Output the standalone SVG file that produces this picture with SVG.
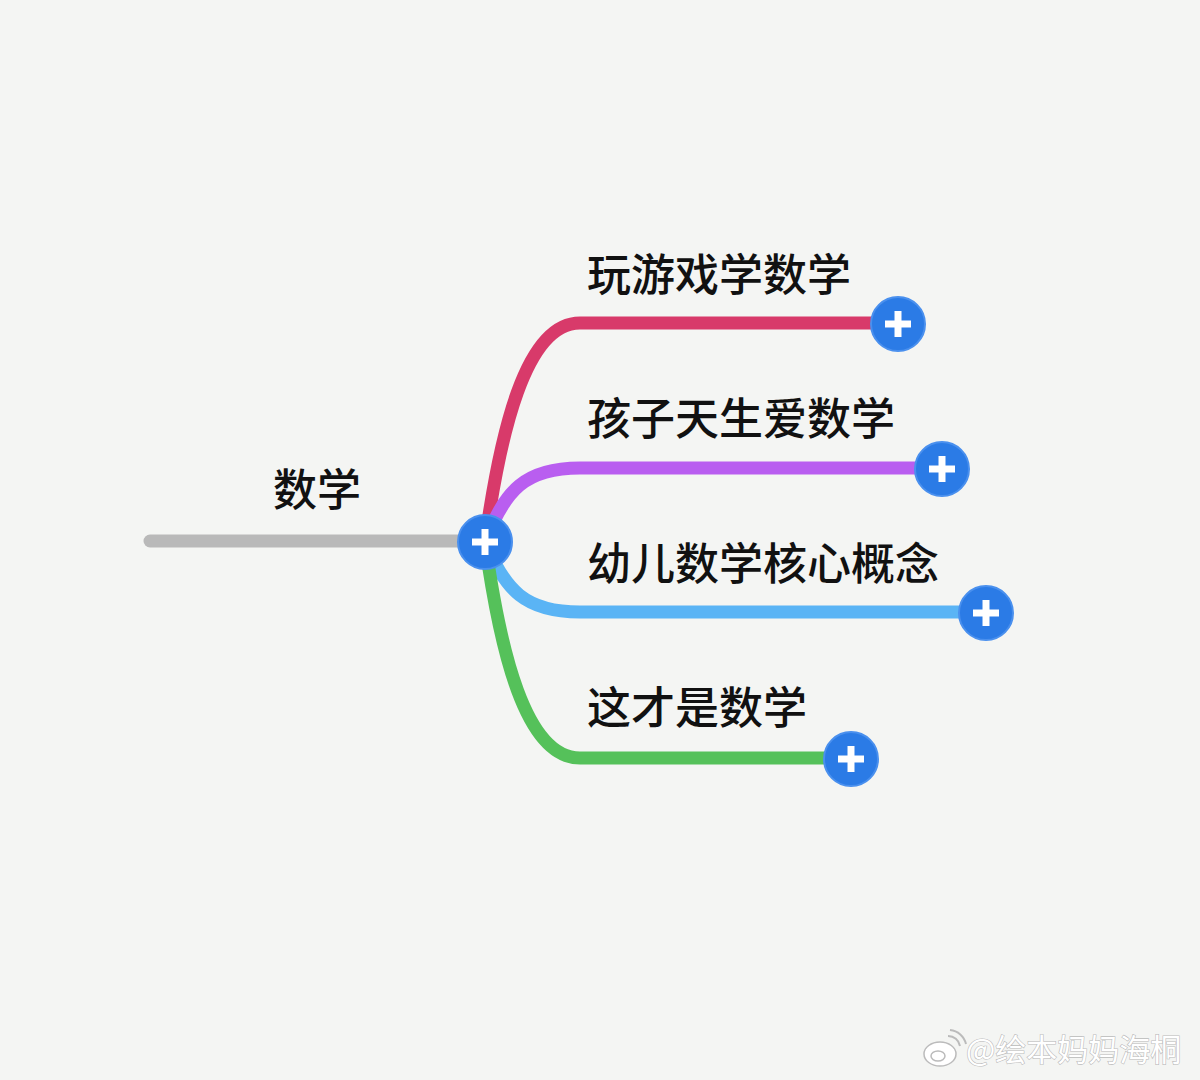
<svg xmlns="http://www.w3.org/2000/svg" width="1200" height="1080" viewBox="0 0 1200 1080">
<defs>
<style>
.lbl{font-family:"Noto Sans CJK SC","Noto Sans",sans-serif;font-size:44px;font-weight:500;fill:#111;}
.br{fill:none;stroke-width:13;stroke-linecap:round;}
.btn{fill:#2b7be6;stroke:#4a90ee;stroke-width:2;}
.plus{stroke:#fff;stroke-width:7;stroke-linecap:butt;}
.wm{font-family:"Noto Sans CJK SC","Noto Sans",sans-serif;font-size:31px;fill:#fff;stroke:#bbbbbb;stroke-width:1.2;paint-order:stroke;}
</style>
<g id="plusIcon">
<line class="plus" x1="-13" y1="0" x2="13" y2="0"/>
<line class="plus" x1="0" y1="-13" x2="0" y2="13"/>
</g>
</defs>
<rect width="1200" height="1080" fill="#f4f5f3"/>
<g id="connectors">
<line class="br" x1="150" y1="541" x2="470" y2="541" stroke="#b9b9b9" stroke-width="14"/>
<path class="br" d="M485,542 C500,434 525,323 580,323 L895,323" stroke="#d83a6a"/>
<path class="br" d="M485,542 C505,490 525,468 580,468 L940,468" stroke="#b95ef0"/>
<path class="br" d="M485,542 C505,590 525,612 580,612 L985,612" stroke="#5ab4f5"/>
<path class="br" d="M485,542 C500,650 525,758 580,758 L850,758" stroke="#55c15a"/>
</g>
<g id="root">
<text class="lbl" x="273" y="506">数学</text>
<circle class="btn" cx="485" cy="542" r="27"/>
<use href="#plusIcon" x="485" y="542"/>
</g>
<g id="node1">
<text class="lbl" x="587" y="291">玩游戏学数学</text>
<circle class="btn" cx="898" cy="324" r="27"/>
<use href="#plusIcon" x="898" y="324"/>
</g>
<g id="node2">
<text class="lbl" x="587" y="435">孩子天生爱数学</text>
<circle class="btn" cx="942" cy="469" r="27"/>
<use href="#plusIcon" x="942" y="469"/>
</g>
<g id="node3">
<text class="lbl" x="587" y="580">幼儿数学核心概念</text>
<circle class="btn" cx="986" cy="613" r="27"/>
<use href="#plusIcon" x="986" y="613"/>
</g>
<g id="node4">
<text class="lbl" x="587" y="724">这才是数学</text>
<circle class="btn" cx="851" cy="759" r="27"/>
<use href="#plusIcon" x="851" y="759"/>
</g>
<g id="watermark">
<ellipse cx="940" cy="1054" rx="16" ry="12" fill="#fff" stroke="#bbbbbb" stroke-width="1.5"/>
<ellipse cx="938" cy="1056" rx="7" ry="5" fill="none" stroke="#bbbbbb" stroke-width="1.5"/>
<path d="M948,1036 A12,12 0 0 1 960,1046 M950,1030 A18,18 0 0 1 966,1044" fill="none" stroke="#bbbbbb" stroke-width="2"/>
<text class="wm" x="966" y="1061">@绘本妈妈海桐</text>
</g>
</svg>
